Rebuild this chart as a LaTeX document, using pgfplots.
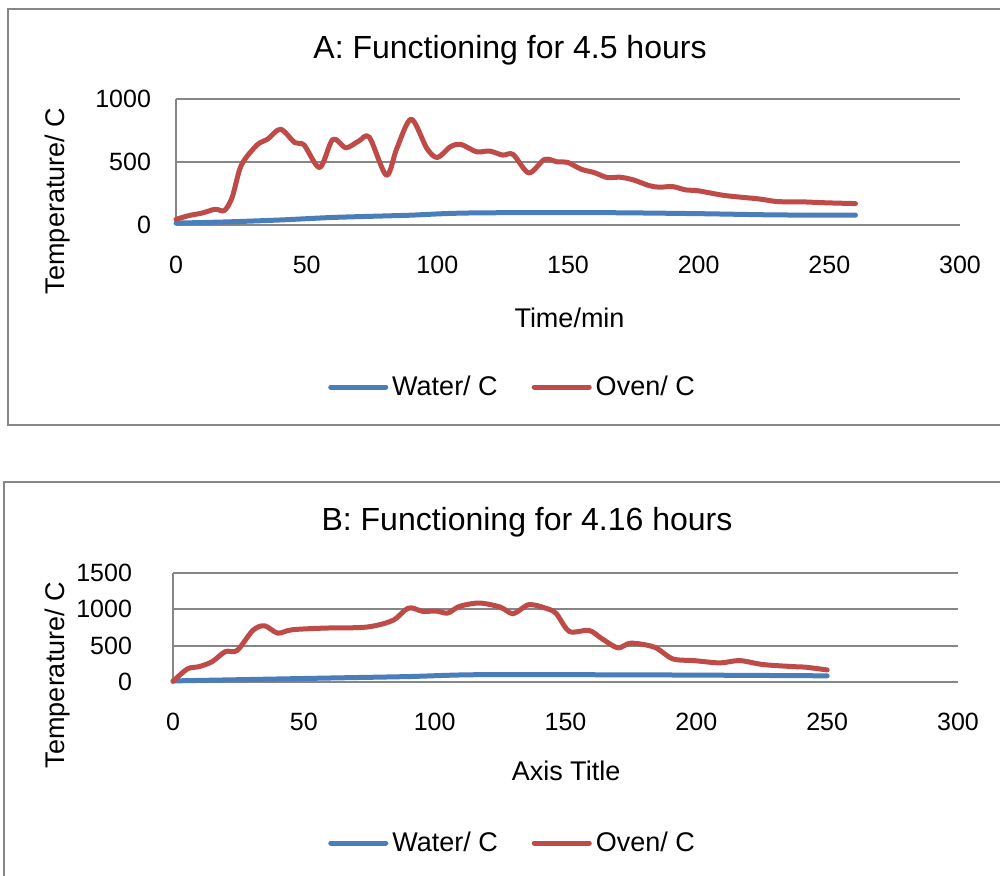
\documentclass[border=0pt]{standalone}
\usepackage{pgfplots}
\pgfplotsset{compat=1.18}
\usepackage{fontspec}
\setmainfont{Liberation Sans}

\definecolor{xlblue}{HTML}{4A7EBB}
\definecolor{xlred}{HTML}{BE4B48}
\definecolor{xlgray}{HTML}{868686}

\pgfplotsset{
  xlchart/.style={
    scale only axis,
    anchor=south west,
    xmin=0, xmax=300, xtick distance=50,
    ymin=0,
    axis x line*=bottom, axis y line*=left,
    axis line style={draw=xlgray, line width=1pt, -},
    ymajorgrids,
    grid style={draw=xlgray, line width=1pt},
    major tick length=0pt,
    tick style={draw=none},
    /pgf/number format/assume math mode=true,
    /pgf/number format/1000 sep={},
    ticklabel style={font=\fontsize{12.5}{14}\selectfont},
    xticklabel style={yshift=-12pt},
    yticklabel style={xshift=-9pt},
    clip=false,
    legend columns=2,
    legend style={draw=none, fill=none, font=\fontsize{13.5}{15}\selectfont,
      /tikz/every even column/.append style={column sep=15pt}},
    legend image code/.code={\draw[#1] (0pt,0pt) -- (27.5pt,0pt);},
    every axis plot/.append style={line width=2.5pt, line cap=round, line join=round, smooth, tension=0.5},
  }
}

\begin{document}
\begin{tikzpicture}
\useasboundingbox (0pt,0pt) rectangle (500pt,437.5pt);
\begin{scope}
\clip (0pt,0pt) rectangle (500pt,437.5pt);
% chart frames
\draw[xlgray, line width=1pt] (4pt,433pt) rectangle (503pt,225pt);
\draw[xlgray, line width=1pt] (2pt,196.5pt) rectangle (503pt,-5pt);
\end{scope}

% ---- A ----
\begin{axis}[xlchart,
  at={(88pt,325pt)}, width=392pt, height=63pt,
  ymax=1000, ytick={0,500,1000},
  legend style={at={(0.4305,-1.2857)}, anchor=center}]
\addplot[xlblue] coordinates {
  (0,15) (20,25) (40,40) (60,60) (80,72) (90,78) (105,92) (120,97)
  (150,98) (170,97) (200,90) (230,80) (260,78)};
\addplot[xlred] coordinates {
  (0,45) (5,75) (10,95) (15,125) (18.5,115) (21.5,220) (25,475) (31,635)
  (35,680) (40,760) (45.5,653) (49,635) (55,456) (60,680) (65,613) (70,667)
  (74,696) (80.5,395) (84.5,608) (90,840) (96,608) (100,536) (105,621)
  (109,640) (115,581) (120,587) (125,555) (129,560) (135,413) (141,520)
  (146,501) (150,496) (155,443) (160,416) (165,377) (170,379) (175,358)
  (181,313) (185,300) (190,305) (195,279) (200,271) (210,234) (223,207)
  (230,186) (239,184) (249,176) (260,170)};
\legend{Water/ C, Oven/ C}
\end{axis}

% ---- B ----
\begin{axis}[xlchart,
  at={(86.5pt,96.5pt)}, width=392.5pt, height=54.5pt,
  ymax=1500, ytick={0,500,1000,1500},
  yticklabel style={xshift=-8pt},
  legend style={at={(0.4338,-1.477)}, anchor=center}]
\addplot[xlblue] coordinates {
  (0,15) (30,35) (60,55) (90,75) (115,100) (160,100) (200,95) (250,85)};
\addplot[xlred] coordinates {
  (0,9) (5.5,180) (10,212) (15,281) (20,419) (24.5,433) (30.5,710) (35,774)
  (40,673) (45.5,719) (58,742) (74,756) (84,848) (90,1018) (95.5,972)
  (100.5,977) (105,949) (109.5,1041) (117,1087) (125,1032) (130,940)
  (136,1064) (143,1009) (146.5,940) (151.5,696) (159,710) (164,594)
  (170,470) (175,535) (184,479) (191,318) (199,295) (209,263) (216.5,295)
  (225.5,240) (237,212) (242,203) (250,166)};
\legend{Water/ C, Oven/ C}
\end{axis}

% titles and axis titles
\node[font=\fontsize{16}{18}\selectfont] at (255pt,412.5pt) {A: Functioning for 4.5 hours};
\node[font=\fontsize{16}{18}\selectfont] at (263.5pt,176.5pt) {B: Functioning for 4.16 hours};
\node[font=\fontsize{13.5}{15}\selectfont, rotate=90] at (29pt,337pt) {Temperature/ C};
\node[font=\fontsize{13.5}{15}\selectfont, rotate=90] at (28.75pt,100pt) {Temperature/ C};
\node[font=\fontsize{13.5}{15}\selectfont] at (284.75pt,278.5pt) {Time/min};
\node[font=\fontsize{13.5}{15}\selectfont] at (283pt,52pt) {Axis Title};
\end{tikzpicture}
\end{document}
